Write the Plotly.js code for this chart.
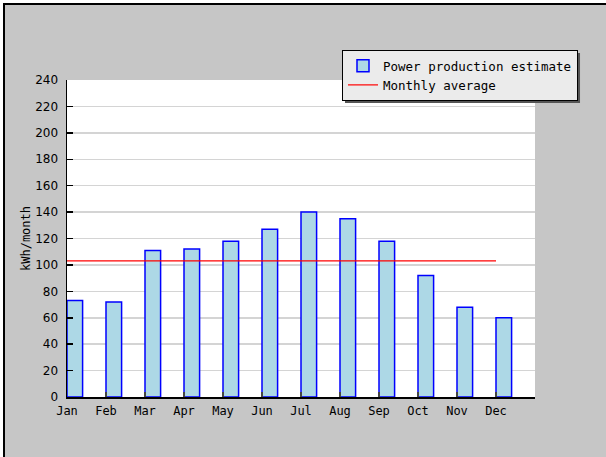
<!DOCTYPE html>
<html>
<head>
<meta charset="utf-8">
<script src="https://cdn.plot.ly/plotly-3.0.1.min.js"></script>
<style>
  html, body { margin: 0; padding: 0; background: #ffffff; }
  #frame { position: absolute; left: 3px; top: 3px; width: 603px; height: 454px;
           background: #c6c6c6; border-left: 2px solid #000; border-top: 2px solid #000; }
  #chart { position: absolute; left: 0; top: 0; width: 606px; height: 457px; }
</style>
</head>
<body>
<div id="frame"></div>
<div id="chart"></div>
<script>
const months = ['Jan','Feb','Mar','Apr','May','Jun','Jul','Aug','Sep','Oct','Nov','Dec'];
const production = [73, 72, 111, 112, 118, 127, 140, 135, 118, 92, 68, 60];
const averageX = ['Jan', 'Dec'];
const averageY = [103, 103];
const yTicks = [0,20,40,60,80,100,120,140,160,180,200,220,240];

const traces = [
  {
    type: 'bar', name: 'Power production estimate',
    x: months, y: production,
    offset: 0, width: 0.4,
    marker: { color: '#add8e6', line: { color: '#0000ff', width: 1.5 } }
  },
  {
    type: 'scatter', mode: 'lines', name: 'Monthly average',
    x: averageX, y: averageY,
    line: { color: '#ff0000', width: 1.2 }
  }
];

const layout = {
  width: 606, height: 457,
  margin: { l: 67, r: 71, t: 80, b: 60, pad: 0 },
  paper_bgcolor: 'rgba(0,0,0,0)',
  plot_bgcolor: '#ffffff',
  showlegend: true,
  font: { family: 'DejaVu Sans', size: 12, color: '#000' },
  xaxis: {
    type: 'category', range: [0, 12], fixedrange: true,
    showgrid: false, zeroline: false,
    showline: true, linecolor: '#000', linewidth: 1.5,
    ticks: 'inside', ticklen: 5, tickcolor: '#444', tickwidth: 1.5,
    tickfont: { family: 'DejaVu Sans Mono', size: 12, color: '#000' },
    ticklabelstandoff: 2
  },
  yaxis: {
    range: [0, 240], fixedrange: true,
    tickvals: yTicks,
    showgrid: true, gridcolor: '#d4d4d4', gridwidth: 1.5,
    zeroline: false,
    showline: true, linecolor: '#000', linewidth: 1.5,
    ticks: 'inside', ticklen: 6, tickcolor: '#000', tickwidth: 1.5,
    tickfont: { family: 'DejaVu Sans', size: 12, color: '#000' },
    ticklabelstandoff: 5,
    title: { text: 'kWh/month', font: { family: 'DejaVu Sans Mono', size: 12, color: '#000' }, standoff: 2 }
  },
  legend: {
    x: 0.5876, y: 1.0946, xanchor: 'left', yanchor: 'top',
    bgcolor: '#ebebeb', bordercolor: '#000', borderwidth: 1,
    font: { family: 'DejaVu Sans Mono', size: 12.5, color: '#000' },
    tracegroupgap: 0, itemwidth: 30
  },
  shapes: [
    { type: 'rect', xref: 'paper', yref: 'paper', layer: 'above',
      x0: 0.594, x1: 1.0962, y0: 0.9274, y1: 1.0852,
      fillcolor: '#555555', line: { width: 0 } }
  ]
};

Plotly.newPlot('chart', traces, layout, { displayModeBar: false, staticPlot: true });
</script>
</body>
</html>
